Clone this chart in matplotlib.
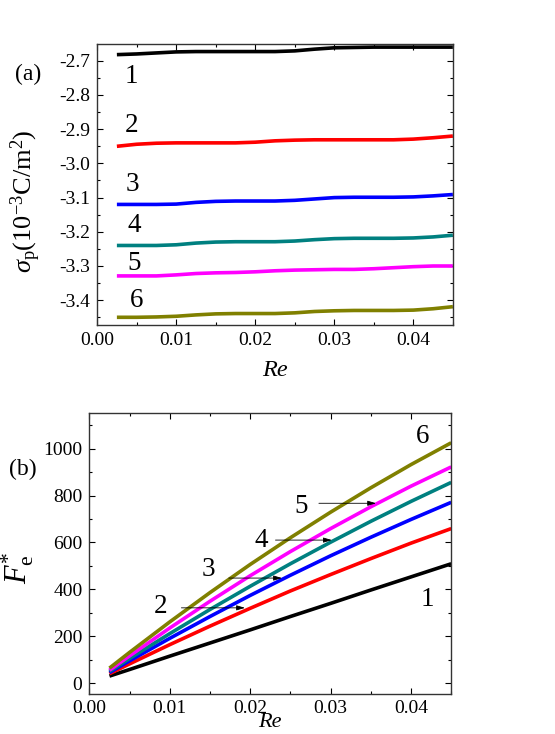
import matplotlib
matplotlib.use("Agg")
import matplotlib.pyplot as plt
from matplotlib.ticker import MultipleLocator

plt.rcParams['font.family'] = ['Liberation Serif', 'DejaVu Serif']
plt.rcParams['mathtext.fontset'] = 'custom'
plt.rcParams['mathtext.rm'] = 'Liberation Serif'
plt.rcParams['mathtext.it'] = 'Liberation Serif:italic'

# ---- datos panel (a): sigma_p vs Re ----
re_a = [0.0025, 0.005, 0.0075, 0.01, 0.0125, 0.015, 0.0175, 0.02, 0.0225,
        0.025, 0.0275, 0.03, 0.0325, 0.035, 0.0375, 0.04, 0.0425, 0.045]
sig1 = [-2.682, -2.680, -2.677, -2.674, -2.673, -2.673, -2.673, -2.673, -2.673,
        -2.671, -2.666, -2.662, -2.661, -2.660, -2.660, -2.660, -2.660, -2.660]
sig2 = [-2.950, -2.944, -2.941, -2.940, -2.940, -2.940, -2.940, -2.938, -2.934,
        -2.932, -2.931, -2.931, -2.931, -2.931, -2.931, -2.929, -2.925, -2.920]
sig3 = [-3.120, -3.120, -3.120, -3.119, -3.114, -3.111, -3.110, -3.110, -3.110,
        -3.108, -3.104, -3.100, -3.099, -3.099, -3.099, -3.098, -3.095, -3.091]
sig4 = [-3.240, -3.240, -3.240, -3.238, -3.233, -3.230, -3.229, -3.229, -3.229,
        -3.227, -3.223, -3.220, -3.219, -3.219, -3.219, -3.218, -3.215, -3.210]
sig5 = [-3.329, -3.329, -3.329, -3.326, -3.322, -3.320, -3.319, -3.317, -3.314,
        -3.312, -3.311, -3.310, -3.310, -3.308, -3.305, -3.302, -3.300, -3.300]
sig6 = [-3.450, -3.450, -3.449, -3.447, -3.443, -3.440, -3.439, -3.439, -3.439,
        -3.437, -3.433, -3.431, -3.430, -3.430, -3.430, -3.429, -3.425, -3.419]

# ---- datos panel (b): F*_e vs Re ----
re_b = [0.0025, 0.005, 0.01, 0.015, 0.02, 0.025, 0.03, 0.035, 0.04, 0.045]
fe1 = [30, 58, 115, 171, 227, 284, 340, 397, 453, 509]
fe2 = [40, 82, 164, 243, 319, 393, 463, 531, 597, 659]
fe3 = [45, 95, 191, 284, 374, 460, 543, 622, 698, 771]
fe4 = [50, 105, 211, 314, 413, 509, 601, 690, 775, 856]
fe5 = [55, 116, 235, 349, 458, 561, 659, 752, 840, 922]
fe6 = [64, 131, 261, 386, 506, 620, 729, 833, 932, 1025]

colores = ['#000000', '#ff0000', '#0000ff', '#008080', '#ff00ff', '#808000']
etiquetas = ['1', '2', '3', '4', '5', '6']

# posiciones de los números en (a)
lab_a_x = [0.0043, 0.0043, 0.0045, 0.0047, 0.0047, 0.0050]
lab_a_y = [-2.745, -2.890, -3.061, -3.183, -3.294, -3.401]

# flechas en (b): (texto, texto x, texto y, inicio x, fin x, y flecha)
flechas = [
    ('2', 0.0089, 326, 0.0111, 0.0197, 321),
    ('3', 0.0148, 483, 0.0170, 0.0243, 448),
    ('4', 0.0214, 610, 0.0228, 0.0305, 610),
    ('5', 0.0263, 752, 0.0282, 0.0360, 767),
]

fig = plt.figure(figsize=(5.55, 7.34), dpi=100)
ax1 = fig.add_axes([0.175, 0.557, 0.641, 0.383])
ax2 = fig.add_axes([0.161, 0.054, 0.652, 0.383])

# ================= panel (a) =================
for y, c in zip([sig1, sig2, sig3, sig4, sig5, sig6], colores):
    ax1.plot(re_a, y, color=c, linewidth=2.6, solid_capstyle='butt')
for t, x, y in zip(etiquetas, lab_a_x, lab_a_y):
    ax1.text(x, y, t, fontsize=19.5, ha='center', va='center')

ax1.set_xlim(0, 0.045)
ax1.set_ylim(-3.473, -2.651)
ax1.xaxis.set_major_locator(MultipleLocator(0.01))
ax1.xaxis.set_minor_locator(MultipleLocator(0.005))
ax1.yaxis.set_major_locator(MultipleLocator(0.1))
ax1.yaxis.set_minor_locator(MultipleLocator(0.05))
ax1.xaxis.set_major_formatter(plt.FormatStrFormatter('%.2f'))
ax1.yaxis.set_major_formatter(plt.FormatStrFormatter('%.1f'))
ax1.set_xlabel('Re', fontsize=17.5, style='italic', labelpad=8)
ax1.set_ylabel(r'$\sigma_\mathrm{p}(10^{-3}\mathrm{C/m}^2)$', fontsize=19)
ax1.yaxis.set_label_coords(-0.152, 0.44)
ax1.text(-0.193, 0.893, '(a)', transform=ax1.transAxes, fontsize=17,
         ha='center', va='center')

# ================= panel (b) =================
for y, c in zip([fe1, fe2, fe3, fe4, fe5, fe6], colores):
    ax2.plot(re_b, y, color=c, linewidth=2.6, solid_capstyle='butt')
for t, tx, ty, x0, x1, ya in flechas:
    ax2.text(tx, ty, t, fontsize=19.5, ha='center', va='center')
    ax2.annotate('', xy=(x1, ya), xytext=(x0, ya),
                 arrowprops=dict(arrowstyle='-|>,head_length=0.5,head_width=0.15',
                                 color='black', lw=0.6))
ax2.text(0.0414, 1051, '6', fontsize=19.5, ha='center', va='center')
ax2.text(0.0420, 356, '1', fontsize=19.5, ha='center', va='center')

ax2.set_xlim(0, 0.045)
ax2.set_ylim(-48, 1151)
ax2.xaxis.set_major_locator(MultipleLocator(0.01))
ax2.xaxis.set_minor_locator(MultipleLocator(0.005))
ax2.yaxis.set_major_locator(MultipleLocator(200))
ax2.yaxis.set_minor_locator(MultipleLocator(100))
ax2.xaxis.set_major_formatter(plt.FormatStrFormatter('%.2f'))
ax2.set_xlabel('Re', fontsize=16, style='italic', labelpad=-3)
ax2.set_ylabel(r'$F^{*}_{\mathrm{e}}$', fontsize=22)
ax2.yaxis.set_label_coords(-0.148, 0.45)
ax2.text(-0.184, 0.80, '(b)', transform=ax2.transAxes, fontsize=17,
         ha='center', va='center')

for ax in (ax1, ax2):
    ax.tick_params(which='both', direction='in', top=True, right=True,
                   labelsize=14, width=0.8, pad=5)
    ax.tick_params(which='major', length=4)
    ax.tick_params(which='minor', length=2.5)
    for s in ax.spines.values():
        s.set_linewidth(1.0)
        s.set_color('#333333')
ax2.tick_params(axis='x', pad=4)

fig.savefig('out.png', dpi=100)
